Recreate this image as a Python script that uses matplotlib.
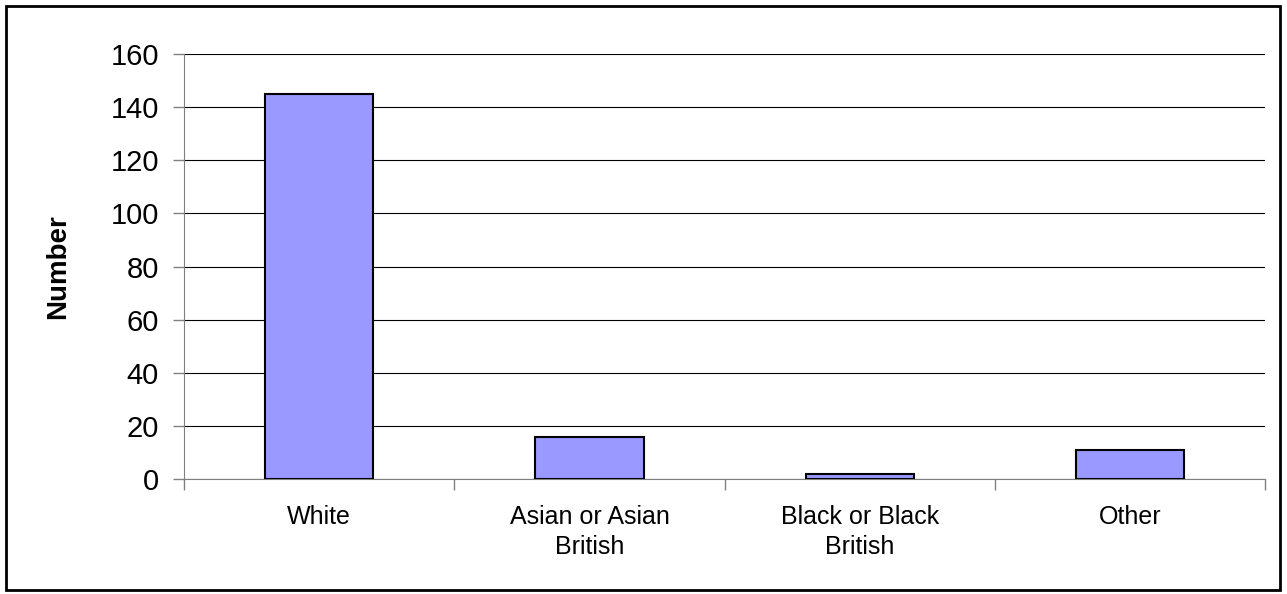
import numpy as np
import matplotlib
matplotlib.use("Agg")
import matplotlib.pyplot as plt
from matplotlib.patches import Rectangle

categories = ["White", "Asian or Asian\nBritish", "Black or Black\nBritish", "Other"]
counts = [145, 16, 2, 11]
y_ticks = [0, 20, 40, 60, 80, 100, 120, 140, 160]

plt.rcParams['font.family'] = ['Liberation Sans', 'DejaVu Sans']

fig = plt.figure(figsize=(12.87, 5.94), dpi=100)
ax = fig.add_axes([0.143, 0.1936, 0.840, 0.7154])

x = np.arange(len(categories))
ax.bar(x, counts, width=0.4, color='#9999FF', edgecolor='black', linewidth=1.5, zorder=3)

ax.set_xlim(-0.5, len(categories) - 0.5)
ax.set_ylim(0, 160)
ax.set_yticks(y_ticks)
ax.yaxis.grid(True, color='black', linewidth=0.8, zorder=0)
ax.set_axisbelow(True)

ax.set_xticks(x)
ax.set_xticklabels(categories, fontsize=18, linespacing=1.3, va='top')
ax.tick_params(axis='x', which='major', length=0, pad=19)
ax.set_xticks(np.arange(-0.5, len(categories)), minor=True)
ax.tick_params(axis='x', which='minor', length=8, color='#808080', width=1)
ax.tick_params(axis='y', labelsize=21, length=8, color='#808080', width=1, pad=10)

for s in ['top', 'right']:
    ax.spines[s].set_visible(False)
ax.spines['left'].set_color('#808080')
ax.spines['bottom'].set_color('#808080')

ax.set_ylabel("Number", fontsize=20, fontweight='bold')
ax.yaxis.set_label_coords(-0.104, 0.5)

fig.patches.append(Rectangle((6 / 1287, 4 / 594), 1274 / 1287, 584 / 594,
                             transform=fig.transFigure, fill=False,
                             edgecolor='black', linewidth=2))

fig.savefig("out.png", dpi=100)
